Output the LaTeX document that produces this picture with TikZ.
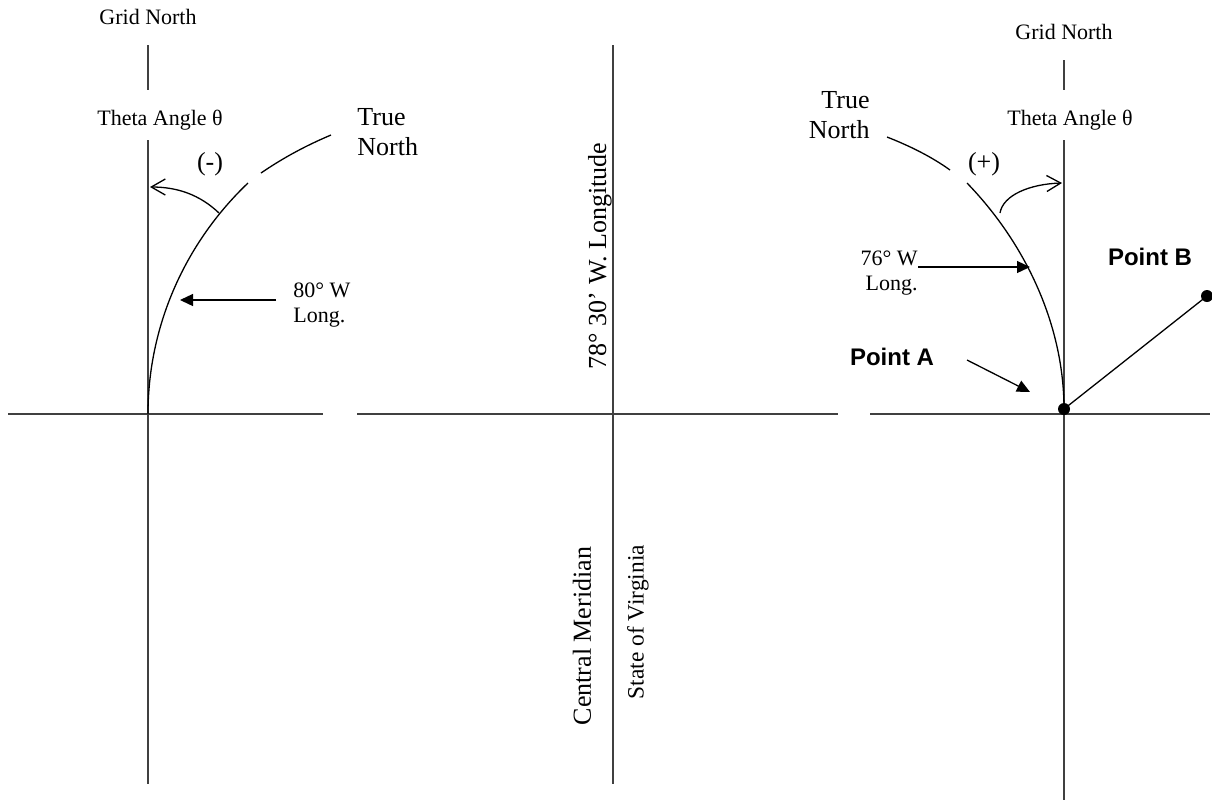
\documentclass[tikz,border=0pt]{standalone}
\usepackage{fontspec}
\setmainfont{Liberation Serif}
\newfontfamily\pointfont{Liberation Sans}
\usetikzlibrary{arrows.meta}

\begin{document}
\begin{tikzpicture}[x=0.5pt,y=-0.5pt,
		axis/.style={line width=1pt,black!75},
		meridian/.style={line width=0.65pt},
		theta/.style={line width=0.65pt,-{Straight Barb[length=7pt,width=8pt]}},
		pointer/.style={line width=0.65pt,-{Triangle[length=6.5pt,width=6pt]}},
		small/.style={font=\fontsize{11}{12.5}\selectfont,inner sep=0pt},
		big/.style={font=\fontsize{13}{15}\selectfont,inner sep=0pt},
		bold/.style={font=\pointfont\bfseries\fontsize{12}{14}\selectfont,inner sep=0pt},
		dot/.style={circle,fill,inner sep=0pt,minimum size=6pt},
	]
	\useasboundingbox (0,0) rectangle (1212,800);

	\coordinate (oL) at (148,414);
	\coordinate (ptA) at (1064,409);
	\coordinate (ptB) at (1207,296);

	\draw[axis] (148,45) -- (148,90);
	\draw[axis] (148,140) -- (148,784);
	\draw[axis] (613,45) -- (613,784);
	\draw[axis] (1064,60) -- (1064,90);
	\draw[axis] (1064,140) -- (1064,800);
	\draw[axis] (8,414) -- (323,414);
	\draw[axis] (357,414) -- (838,414);
	\draw[axis] (870,414) -- (1210,414);

	\node[small] (gridL) at (148,17) {Grid North};
	\node[small] (thetaL) at (160,120) {Theta Angle θ};
	\node[big] (minus) at (210,164) {(-)};
	\node[big,align=left,anchor=north west] (trueL) at (357,108) {True\\North};
	\node[small,align=left,anchor=north west] (lbl80) at (293,282) {80° W\\Long.};

	\coordinate (c80) at (180,300);
	\coordinate (a80) at (276,300);
	\coordinate (tL) at (219,213);
	\draw[meridian] (oL) .. controls (148,326) and (185,243) .. (248,183);
	\draw[meridian] (261,173) .. controls (283,158) and (305,146) .. (331,135);
	\draw[theta] (tL) .. controls (200,195) and (178,187) .. (150,187);
	\draw[pointer] (a80) -- (c80);

	\node[big,rotate=90] (lon) at (600,256) {78° 30’ W. Longitude};
	\node[big,rotate=90] (central) at (582,636) {Central Meridian};
	\node[font=\fontsize{11.7}{13}\selectfont,inner sep=0pt,rotate=90] (state) at (638,622) {State of Virginia};

	\node[small] (gridR) at (1064,32) {Grid North};
	\node[small] (thetaR) at (1070,120) {Theta Angle θ};
	\node[big] (plus) at (984,164) {(+)};
	\node[big,align=right,anchor=north east] (trueR) at (870,91) {True\\North};
	\node[small,align=right,anchor=north east] (lbl76) at (918,250) {76° W\\Long.};
	\node[bold] (lblA) at (892,357) {Point A};
	\node[bold] (lblB) at (1150,257) {Point B};

	\coordinate (c76) at (1030,267);
	\coordinate (a76) at (918,267);
	\coordinate (tR) at (1000,213);
	\coordinate (cA) at (1030,392);
	\coordinate (aA) at (967,360);
	\draw[meridian] (967,183) .. controls (1027,245) and (1064,327) .. (ptA);
	\draw[meridian] (887,137) .. controls (910,146) and (932,157) .. (950,170);
	\draw[theta] (tR) .. controls (1003,195) and (1030,184) .. (1062,183);
	\draw[pointer] (a76) -- (c76);
	\draw[pointer] (aA) -- (cA);
	\draw[meridian] (ptA) -- (ptB);
	\node[dot] (dotA) at (ptA) {};
	\node[dot] (dotB) at (ptB) {};
\end{tikzpicture}
\end{document}
